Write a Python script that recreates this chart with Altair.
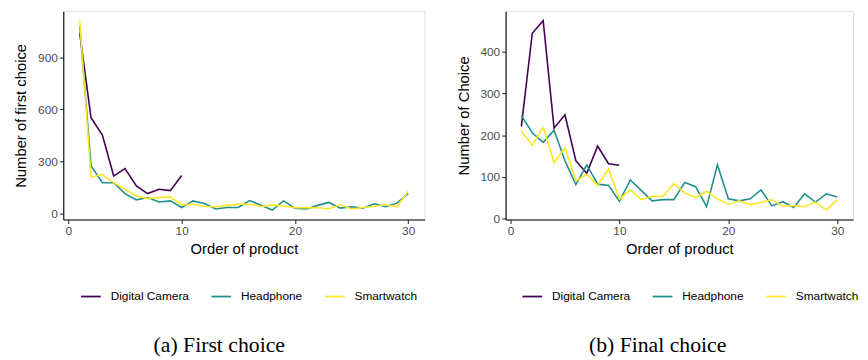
import altair as alt
import pandas as pd

series_names = ["Digital Camera", "Headphone", "Smartwatch"]
series_colors = ["#440154", "#21908C", "#FDE725"]

order_10 = list(range(1, 11))
order_30 = list(range(1, 31))

# (a) First choice
first_camera = [1041, 551, 452, 215, 258, 158, 114, 139, 131, 218]
first_headphone = [1080, 275, 177, 177, 114, 78, 91, 66, 72, 34,
                   72, 57, 25, 34, 34, 74, 47, 19, 72, 30,
                   25, 46, 63, 30, 38, 30, 55, 38, 59, 114]
first_smartwatch = [1111, 209, 224, 177, 139, 101, 85, 91, 95, 49,
                    53, 40, 38, 46, 53, 53, 40, 49, 42, 32,
                    34, 32, 27, 49, 25, 34, 40, 51, 38, 127]

# (b) Final choice
final_camera = [221, 444, 474, 217, 249, 139, 109, 174, 132, 128]
final_headphone = [247, 206, 183, 212, 139, 82, 129, 83, 80, 42,
                   93, 68, 43, 46, 46, 87, 77, 29, 129, 48,
                   43, 48, 69, 31, 41, 27, 60, 40, 60, 52]
final_smartwatch = [210, 176, 219, 134, 170, 91, 106, 80, 119, 47,
                    70, 46, 54, 54, 84, 62, 51, 66, 48, 35,
                    43, 34, 39, 46, 30, 32, 29, 40, 21, 46]

x_ticks = [0, 10, 20, 30]
first_y_ticks = [0, 300, 600, 900]
final_y_ticks = [0, 100, 200, 300, 400]


def make_df(cam, head, smart):
    rows = []
    for x, v in zip(order_10, cam):
        rows.append({"order": x, "count": v, "product": series_names[0]})
    for x, v in zip(order_30, head):
        rows.append({"order": x, "count": v, "product": series_names[1]})
    for x, v in zip(order_30, smart):
        rows.append({"order": x, "count": v, "product": series_names[2]})
    return pd.DataFrame(rows)


def expand(vals):
    lo, hi = min(vals), max(vals)
    r = hi - lo
    return [lo - 0.05 * r, hi + 0.05 * r]


x_dom = expand(order_30)

axis_common = dict(
    domainColor="black", domainWidth=1.1, tickColor="#333333", tickSize=4,
    tickWidth=1.1, labelColor="#4D4D4D", labelFontSize=12, labelFont="Liberation Sans",
    titleFont="Liberation Sans", titleFontSize=15, titleFontWeight="normal",
    titleColor="black", grid=False, labelPadding=2,
)


def panel(df, ytitle, yticks, caption, width, legend_x):
    ydom = expand(df["count"].tolist())
    return alt.Chart(df).mark_line(strokeWidth=1.6, clip=True).encode(
        x=alt.X("order:Q", title="Order of product",
                scale=alt.Scale(domain=x_dom, nice=False, zero=False),
                axis=alt.Axis(values=x_ticks, titlePadding=5, **axis_common)),
        y=alt.Y("count:Q", title=ytitle,
                scale=alt.Scale(domain=ydom, nice=False, zero=False),
                axis=alt.Axis(values=yticks, titlePadding=9, **axis_common)),
        color=alt.Color("product:N",
                        scale=alt.Scale(domain=series_names, range=series_colors),
                        legend=alt.Legend(title=None, orient="none", direction="horizontal",
                                          legendX=legend_x, legendY=278,
                                          symbolType="stroke", symbolSize=400,
                                          symbolStrokeWidth=1.8, labelFontSize=12,
                                          labelFont="Liberation Sans", labelColor="black",
                                          labelOffset=9, columnPadding=18)),
    ).properties(
        width=width, height=211,
        title=alt.Title(caption, orient="bottom", anchor="middle", frame="bounds",
                        font="Liberation Serif", fontSize=22, fontWeight="normal",
                        color="black", offset=33),
    )


left = panel(make_df(first_camera, first_headphone, first_smartwatch),
             "Number of first choice", first_y_ticks, "(a) First choice", 366, 17)
right = panel(make_df(final_camera, final_headphone, final_smartwatch),
              "Number of Choice", final_y_ticks, "(b) Final choice", 352, 16)

chart = alt.hconcat(left, right, spacing=30).resolve_scale(
    color="independent", y="independent"
).properties(
    padding={"left": 5, "top": 0, "right": 0, "bottom": 0}
).configure_view(stroke=None).configure(background="white")

chart.save("out.html", embed_options={"renderer": "svg", "actions": False})
